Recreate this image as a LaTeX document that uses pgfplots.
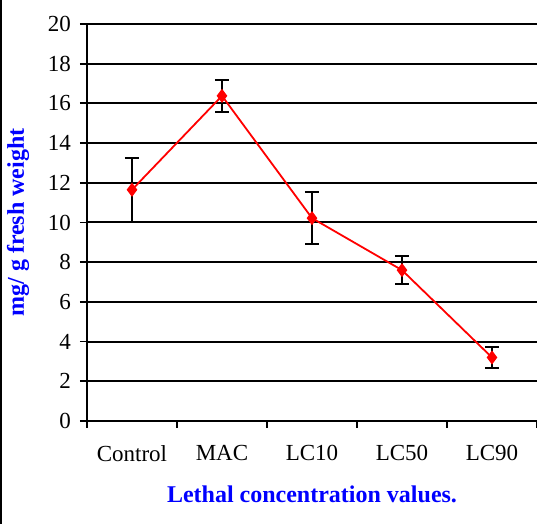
\documentclass[border=0pt]{standalone}
\usepackage{fontspec}
\setmainfont{Liberation Serif}
\usepackage{pgfplots}
\pgfplotsset{compat=1.18}
\definecolor{lblblue}{RGB}{0,0,255}
\begin{document}
\begin{tikzpicture}
\begin{axis}[
  scale only axis,
  width=225pt, height=198.5pt,
  xmin=-0.5, xmax=4.5,
  ymin=0, ymax=20,
  ytick={0,2,...,20},
  xtick={0,1,2,3,4},
  xticklabels={Control,MAC,LC10,LC50,LC90},
  minor xtick={-0.5,0.5,1.5,2.5,3.5,4.5},
  major x tick style={draw=none},
  minor x tick style={black, line width=0.9pt},
  minor tick length=3.5pt,
  major tick length=3.5pt,
  y tick style={black, line width=0.9pt},
  tick align=outside,
  axis x line*=bottom,
  axis y line*=left,
  axis line style={-, black, line width=1.2pt},
  ymajorgrids,
  grid style={black, line width=1pt},
  /pgf/number format/assume math mode=true,
  tick label style={font=\fontsize{11.5}{13}\selectfont},
  yticklabel style={xshift=-1pt},
  xticklabel style={yshift=-5pt},
  xlabel={Lethal concentration values.},
  ylabel={mg/ g fresh weight},
  xlabel style={at={(axis description cs:0.5,-0.186)}, anchor=center, font=\fontsize{12}{14}\selectfont\bfseries, text=lblblue},
  ylabel style={at={(axis description cs:-0.153,0.5)}, anchor=center, font=\fontsize{12}{14}\selectfont\bfseries, text=lblblue},
  clip=false,
]
\addplot[red, line width=0.9pt, mark=diamond*, mark size=2.8pt, mark options={red, solid},
  error bars/.cd, y dir=both, y explicit,
  error bar style={black, line width=0.9pt},
  error mark options={rotate=90, mark size=3.5pt, black, line width=0.9pt}]
  table[x=x, y=y, y error=e] {
x y e
0 11.65 1.6
1 16.38 0.8
2 10.22 1.3
3 7.6 0.7
4 3.2 0.53
};
\coordinate (ll) at (rel axis cs:0,0);
\coordinate (ur) at (rel axis cs:1,1);
\end{axis}
\pgfresetboundingbox
\path[use as bounding box] ([shift={(-43.5pt,-51.5pt)}]ll) rectangle ([shift={(0pt,12pt)}]ur);
\draw[black, line width=1pt] ([shift={(-43pt,-51.5pt)}]ll) -- ([shift={(-43pt,12pt)}]ll|-ur);
\end{tikzpicture}
\end{document}
